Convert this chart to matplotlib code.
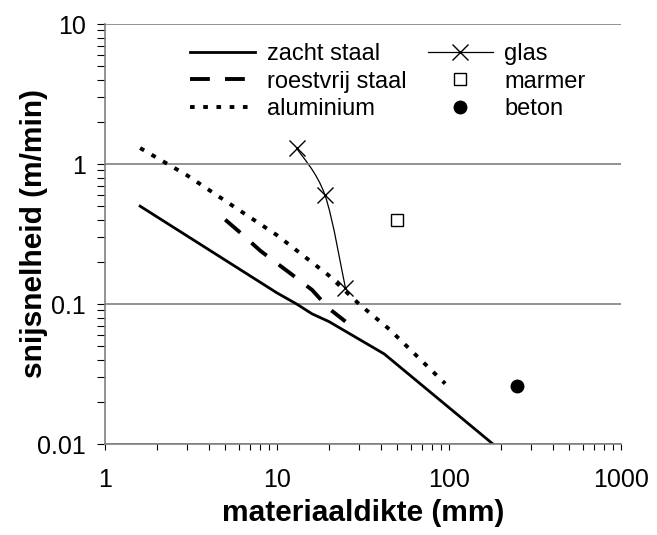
import numpy as np
import matplotlib.pyplot as plt
from matplotlib.path import Path
from matplotlib.patches import PathPatch
from matplotlib.lines import Line2D
from matplotlib.ticker import LogLocator, FixedLocator, NullFormatter

plt.rcParams['font.family'] = ['Liberation Sans', 'DejaVu Sans']

# data
zacht_x = [1.6, 10, 13, 16, 20, 42, 180]
zacht_y = [0.5, 0.12, 0.1, 0.085, 0.075, 0.044, 0.01]

roest_x = [5, 6, 8, 10, 12, 16, 20, 25]
roest_y = [0.4, 0.33, 0.24, 0.195, 0.165, 0.126, 0.093, 0.075]

alu_x = [1.6, 3, 6, 10, 20, 30, 45, 95]
alu_y = [1.3, 0.83, 0.47, 0.31, 0.16, 0.1, 0.066, 0.027]

glas_x = [13, 19, 25]
glas_y = [1.3, 0.6, 0.13]

marmer_x = [50]
marmer_y = [0.4]

beton_x = [250]
beton_y = [0.026]

x_ticks = [1, 10, 100, 1000]
x_ticklabels = ['1', '10', '100', '1000']
y_ticks = [0.01, 0.1, 1, 10]
y_ticklabels = ['0.01', '0.1', '1', '10']


def smooth_path(xs, ys):
    # bezier through the points in log space (like a smoothed spreadsheet line)
    p = np.column_stack([np.log10(xs), np.log10(ys)])
    n = len(p)
    verts = [p[0]]
    codes = [Path.MOVETO]
    for i in range(n - 1):
        prev = p[i - 1] if i > 0 else p[i]
        nxt = p[i + 2] if i + 2 < n else p[i + 1]
        c1 = p[i] + (p[i + 1] - prev) / 6
        c2 = p[i + 1] - (nxt - p[i]) / 6
        verts += [c1, c2, p[i + 1]]
        codes += [Path.CURVE4] * 3
    return Path(10 ** np.array(verts), codes)


dash_roest = (0, (5.1, 3.9))
dash_alu = (0, (1.2, 2.2))

fig = plt.figure(figsize=(6.57, 5.35), dpi=100)
ax = fig.add_axes([105 / 657, 1 - 444 / 535, 516 / 657, 420 / 535])

ax.plot(zacht_x, zacht_y, color='black', lw=2.0)
ax.plot(roest_x, roest_y, color='black', lw=2.8, linestyle=dash_roest)
ax.plot(alu_x, alu_y, color='black', lw=2.8, linestyle=dash_alu)

ax.add_patch(PathPatch(smooth_path(glas_x, glas_y), fill=False, edgecolor='black', lw=0.9))
ax.plot(glas_x, glas_y, linestyle='none', marker='x', color='black', markersize=12, mew=1.0)
ax.plot(marmer_x, marmer_y, linestyle='none', marker='s', markersize=8,
        markerfacecolor='white', markeredgecolor='black', mew=1.0)
ax.plot(beton_x, beton_y, linestyle='none', marker='o', markersize=9, color='black')

ax.set_xscale('log')
ax.set_yscale('log')
ax.set_xlim(1, 1000)
ax.set_ylim(0.01, 10)

ax.yaxis.set_major_locator(FixedLocator(y_ticks))
ax.xaxis.set_major_locator(FixedLocator(x_ticks))
ax.set_yticklabels(y_ticklabels)
ax.set_xticklabels(x_ticklabels)
ax.yaxis.set_minor_locator(LogLocator(base=10, subs=np.arange(2, 10), numticks=20))
ax.xaxis.set_minor_locator(LogLocator(base=10, subs=np.arange(2, 10), numticks=20))
ax.yaxis.set_minor_formatter(NullFormatter())
ax.xaxis.set_minor_formatter(NullFormatter())

ax.tick_params(axis='y', which='both', direction='out', length=5.5, width=0.8, color='black',
               labelsize=18, pad=8)
ax.tick_params(axis='x', which='both', direction='out', length=4, width=0.8, color='black',
               labelsize=18, pad=13)

ax.grid(True, which='major', axis='y', color='#808080', lw=1.2)
for side in ['top', 'right']:
    ax.spines[side].set_visible(False)
for side in ['left', 'bottom']:
    ax.spines[side].set_color('#808080')
    ax.spines[side].set_linewidth(1.2)

ax.set_xlabel('materiaaldikte (mm)', fontsize=21.5, fontweight='bold', labelpad=5)
ax.set_ylabel('snijsnelheid (m/min)', fontsize=21.5, fontweight='bold', va='center')
ax.yaxis.set_label_coords((34 - 105) / 516, 0.5)

handles = [
    Line2D([], [], color='black', lw=2.0),
    Line2D([], [], color='black', lw=2.8, linestyle=dash_roest),
    Line2D([], [], color='black', lw=2.8, linestyle=dash_alu),
    Line2D([], [], color='black', lw=0.9, marker='x', markersize=12, mew=1.0),
    Line2D([], [], linestyle='none', marker='s', markersize=8, markerfacecolor='white',
           markeredgecolor='black', mew=1.0),
    Line2D([], [], linestyle='none', marker='o', markersize=9, color='black'),
]
labels = ['zacht staal', 'roestvrij staal', 'aluminium', 'glas', 'marmer', 'beton']
ax.legend(handles, labels, ncol=2, frameon=False, fontsize=17,
          loc='upper left', bbox_to_anchor=(190 / 657, 1 - 43 / 535),
          bbox_transform=fig.transFigure, borderpad=0, borderaxespad=0,
          handlelength=2.75, handletextpad=0.5, labelspacing=0.24, columnspacing=0.9)

fig.savefig('out.png', dpi=100)
